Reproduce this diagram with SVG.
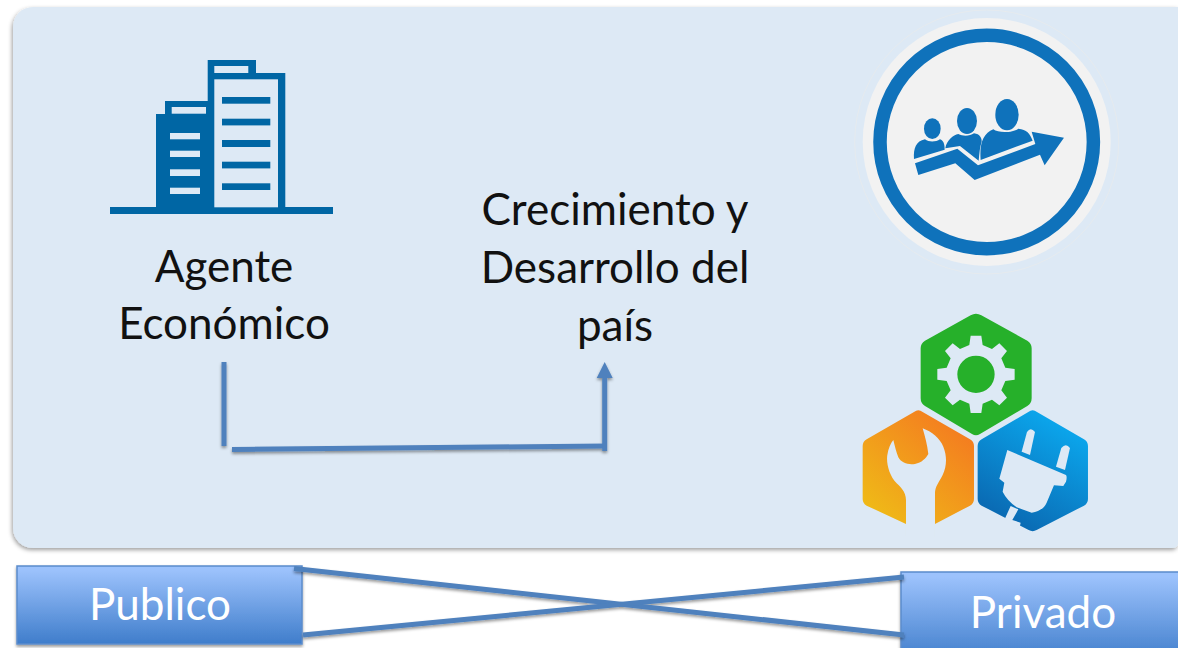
<svg xmlns="http://www.w3.org/2000/svg" width="1178" height="648" viewBox="0 0 1178 648">
<style>
.lbl{font-family:"Lato","Open Sans",sans-serif;font-size:44px;fill:#111;text-anchor:middle}
.btn{font-family:"Lato","Open Sans",sans-serif;font-size:44px;fill:#fff;text-anchor:middle}
.box{fill:url(#boxg);stroke:#5b8ccc;stroke-width:1.5;filter:url(#sh)}
.cn{fill:none;stroke:#4f81bd;stroke-width:5}
.b{fill:#0066a4}
.w{fill:#dde9f5}
.p{fill:#0f72bb}
</style>
<defs>
<linearGradient id="boxg" x1="0" y1="0" x2="0" y2="1"><stop offset="0.05" stop-color="#9cc2fc"/><stop offset="1" stop-color="#3f7dcb"/></linearGradient>
<linearGradient id="og" x1="0.85" y1="0.1" x2="0.2" y2="0.95"><stop offset="0" stop-color="#f47c20"/><stop offset="1" stop-color="#efbc17"/></linearGradient>
<linearGradient id="bg" x1="0.75" y1="0.1" x2="0.3" y2="0.95"><stop offset="0" stop-color="#0ba6ec"/><stop offset="1" stop-color="#0a69b2"/></linearGradient>
<filter id="sh" x="-5%" y="-20%" width="110%" height="150%"><feDropShadow dx="0" dy="2" stdDeviation="1.5" flood-color="#000" flood-opacity="0.4"/></filter>
<filter id="psh" x="-3%" y="-3%" width="106%" height="106%"><feDropShadow dx="-1" dy="2" stdDeviation="2" flood-color="#000" flood-opacity="0.38"/></filter>
</defs>

<rect x="0" y="0" width="1178" height="648" fill="#fff"/>
<g id="panel"><path d="M33,7H1178V543Q1178,548 1172,548H33A20,20 0 0 1 13,528V27A20,20 0 0 1 33,7Z" fill="#dde9f5" filter="url(#psh)"/></g>

<g id="agente">
<rect class="b" x="110" y="207" width="223" height="7"/>
<path class="b" d="M156,207V114H165V101H207.7V60H256V73H285.3V207Z"/>
<rect class="w" x="214.3" y="79.3" width="63.7" height="128"/>
<rect class="w" x="214.3" y="66" width="34" height="7"/>
<rect class="w" x="171.7" y="107" width="34.3" height="6.7"/>
<g class="b">
<rect x="222" y="97" width="48.3" height="6.7"/><rect x="222" y="118.7" width="48.3" height="6.7"/><rect x="222" y="140" width="48.3" height="7"/><rect x="222" y="161.7" width="48.3" height="6.7"/><rect x="222" y="183.3" width="48.3" height="6.7"/>
</g>
<g class="w">
<rect x="170" y="133" width="30" height="6.3"/><rect x="170" y="150.7" width="30" height="6.3"/><rect x="170" y="169.3" width="30" height="6.7"/><rect x="170" y="187.7" width="30" height="6.3"/>
</g>
<text class="lbl" x="224" y="282">Agente</text>
<text class="lbl" x="224" y="339">Económico</text>
</g>

<g id="crecimiento">
<text class="lbl" x="615" y="225">Crecimiento y</text>
<text class="lbl" x="615" y="283">Desarrollo del</text>
<text class="lbl" x="615" y="341">país</text>
</g>

<g id="icono-personas">
<circle cx="986.7" cy="142" r="132" fill="none" stroke="#e6ebef" stroke-width="1"/>
<circle cx="986.7" cy="142" r="124" fill="#f2f2f2"/>
<circle cx="986.7" cy="142" r="106.7" fill="none" stroke="#0f72bb" stroke-width="13.5"/>
<g class="p" transform="translate(850,10) scale(0.3333)">
<ellipse cx="247" cy="356" rx="25" ry="31"/>
<ellipse cx="351" cy="333" rx="30" ry="39"/>
<ellipse cx="471" cy="314" rx="35" ry="47"/>
<path d="M192,447C190,415 198,393 225,388C238,398 258,396 270,388C280,392 284,400 284,419Z"/>
<path d="M286,415C290,390 310,375 325,372C340,380 360,378 372,370C390,372 396,385 395,395C390,410 388,430 386,452L330,408Z"/>
<path d="M392,450C388,400 400,370 430,358C445,370 490,368 505,356C530,358 540,370 548,392Z"/>
<path d="M195,460L322,416L384,466L556,402L545,365L642,383L584,466L570,434L374,510L316,460L205,495Z"/>
</g>
</g>

<g id="icono-hexagonos" transform="translate(850,300) scale(0.3333)">
<path d="M362,46Q378,36 394,46L532,122Q545,130 545,145V295Q545,310 532,318L390,402Q378,410 366,402L225,318Q212,310 212,295V145Q212,130 225,122Z" fill="#26b02a"/>
<path class="w" transform="translate(378,223)" fill-rule="evenodd" d="M-20,-88L-16,-116L16,-116L20,-88L48,-76L70,-93L93,-70L76,-48L88,-20L116,-16L116,16L88,20L76,48L93,70L70,93L48,76L20,88L16,116L-16,116L-20,88L-48,76L-70,93L-93,70L-76,48L-88,20L-116,16L-116,-16L-88,-20L-76,-48L-93,-70L-70,-93L-48,-76ZM56,0A56,56 0 1,0 -56,0A56,56 0 1,0 56,0Z"/>
<path d="M192,336Q205,326 218,336L360,418Q372,425 372,438V597Q372,610 360,617L255,672V710H168V672L50,617Q38,610 38,597V438Q38,425 50,418Z" fill="url(#og)"/>
<path class="w" d="M168,725V600C168,575 150,560 140,550C118,528 108,490 112,465C115,445 122,430 130,420C135,440 140,460 145,472C155,490 175,495 195,492C215,488 228,475 235,462C232,435 225,410 218,385C245,395 270,415 280,440C292,470 290,500 278,525C268,545 255,560 255,580V725Z"/>
<path d="M535,336Q548,326 561,336L702,418Q714,425 714,438V597Q714,610 702,617L560,690Q548,697 536,690L395,617Q383,610 383,597V438Q383,425 395,418Z" fill="url(#bg)"/>
<g class="w">
<path d="M515,455L531,396Q542,380 555,396L540,465Z"/>
<path d="M618,500L634,444Q648,428 660,444L645,510Z"/>
<path d="M472,450L648,525Q652,530 648,545L640,558L612,556L590,608Q580,632 545,638L500,622Q470,600 458,575L463,548L448,536Z"/>
<path d="M482,618L505,628L487,660L512,668L505,700L488,694L492,680L464,658Z"/>
</g>
</g>

<g id="publico">
<rect class="box" x="17" y="566" width="285" height="78"/>
<text class="btn" x="160" y="620">Publico</text>
</g>
<g id="privado">
<rect class="box" x="901" y="572" width="290" height="90"/>
<text class="btn" x="1043" y="628">Privado</text>
</g>

<g id="connectors">
<g filter="url(#sh)">
<line class="cn" x1="224" y1="362" x2="224" y2="446"/>
<line class="cn" x1="232" y1="449.5" x2="607" y2="446"/>
<line class="cn" x1="604.7" y1="451" x2="604.7" y2="378"/>
<path d="M596.7,378L604.7,362L612.7,378Z" fill="#4f81bd"/>
<line class="cn" x1="294" y1="568.5" x2="904" y2="635"/>
<line class="cn" x1="303" y1="635" x2="904" y2="577"/>
</g>
</g>
</svg>
